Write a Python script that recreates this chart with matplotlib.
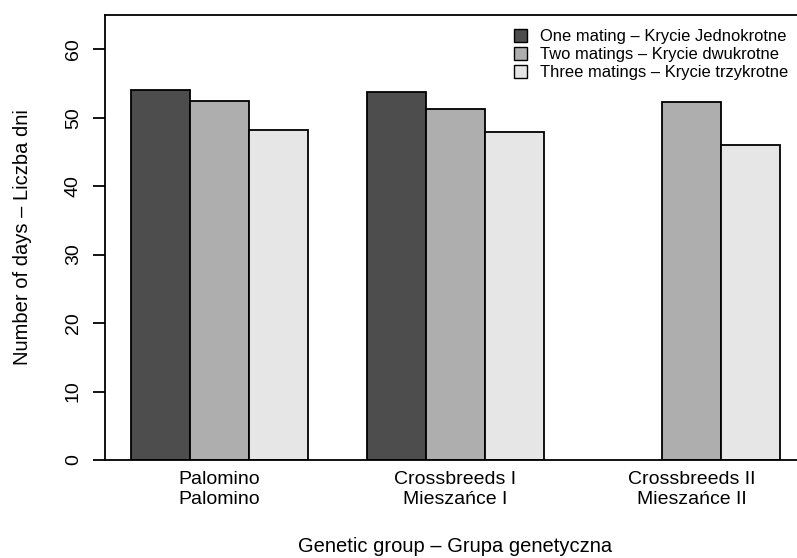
import numpy as np
import matplotlib.pyplot as plt
from matplotlib.patches import Patch

plt.rcParams['font.family'] = ['Liberation Sans', 'DejaVu Sans']

groups = ['Palomino\nPalomino', 'Crossbreeds I\nMieszańce I', 'Crossbreeds II\nMieszańce II']
series = ['One mating – Krycie Jednokrotne',
          'Two matings – Krycie dwukrotne',
          'Three matings – Krycie trzykrotne']
one_mating = [54.0, 53.7, np.nan]
two_matings = [52.4, 51.3, 52.3]
three_matings = [48.2, 47.9, 46.0]
colors = ['#4D4D4D', '#AEAEAE', '#E6E6E6']

W, H = 797, 558
fig = plt.figure(figsize=(W / 100, H / 100), dpi=100)
# box runs a bit past the right edge, like the R device it came from
ax = fig.add_axes([105 / W, (H - 460) / H, (806 - 105) / W, 445 / H])

g = np.arange(len(groups))
for s, vals in enumerate([one_mating, two_matings, three_matings]):
    x = 1.5 + g * 4 + s
    ax.bar(x, vals, width=1.0, color=colors[s], edgecolor='black', linewidth=1.3)

ax.set_xlim(0.56, 12.44)
ax.set_ylim(0, 65)
ax.set_yticks(np.arange(0, 61, 10))
ax.set_xticks(2.5 + g * 4)
ax.set_xticklabels(groups, fontsize=14, linespacing=1.2)
ax.tick_params(axis='x', length=0, pad=8)
ax.tick_params(axis='y', length=8.6, width=1.3, pad=8, labelsize=14, labelrotation=90)
for lab in ax.get_yticklabels():
    lab.set_va('center')
for sp in ax.spines.values():
    sp.set_linewidth(1.3)

fig.text(455 / W, 1 - 547 / H, 'Genetic group – Grupa genetyczna',
         ha='center', va='center', fontsize=14.5)
fig.text(23 / W, 1 - 237.5 / H, 'Number of days – Liczba dni',
         ha='center', va='center', rotation=90, fontsize=14.5)

handles = [Patch(facecolor=c, edgecolor='black', linewidth=1.0) for c in colors]
fig.legend(handles, series, loc='upper left', bbox_to_anchor=(514 / W, 1 - 29 / H),
           frameon=False, fontsize=11.9, handlelength=0.8, handleheight=0.8,
           handletextpad=0.8, labelspacing=0.18, borderpad=0, borderaxespad=0)

fig.savefig('out.png', dpi=100)
